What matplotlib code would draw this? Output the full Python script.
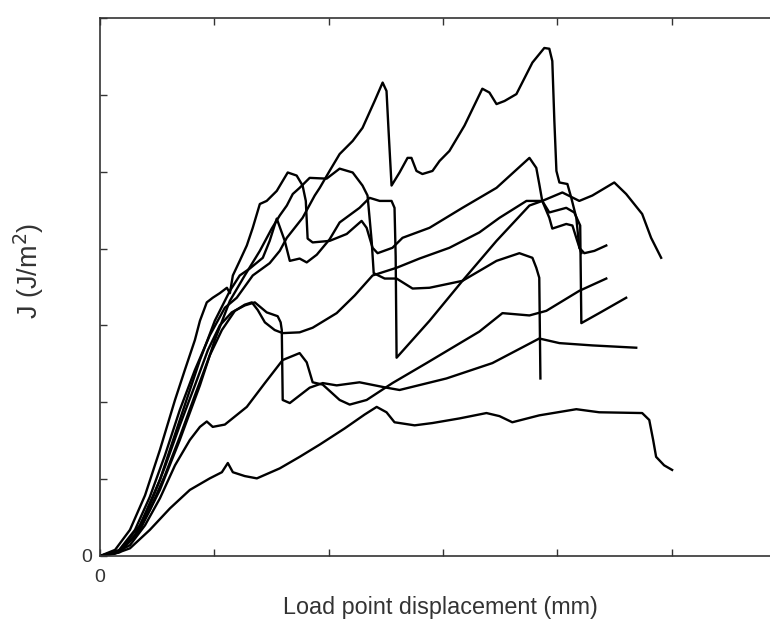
import numpy as np
import matplotlib
matplotlib.use("Agg")
import matplotlib.pyplot as plt

plt.rcParams['font.family'] = ['Liberation Sans', 'DejaVu Sans']

# load point displacement (mm) and J (arbitrary units, ticks every 1) for each specimen
x_a = [0, 0.66, 1.31, 2.18, 3.06, 3.93, 4.80, 5.33, 5.59, 5.81, 6.33, 6.86, 7.86, 8.73, 9.61, 10.70, 11.57,
       12.10, 12.53, 12.88, 13.76, 14.54, 15.72, 16.90, 17.47, 18.03, 19.21, 20.83, 21.83, 23.71, 24.02,
       24.19, 24.32, 24.67, 25.02]
y_a = [0, 0.03, 0.10, 0.34, 0.62, 0.86, 1.01, 1.09, 1.21, 1.09, 1.04, 1.01, 1.14, 1.29, 1.45, 1.66, 1.84,
       1.94, 1.87, 1.74, 1.70, 1.73, 1.79, 1.86, 1.82, 1.74, 1.83, 1.91, 1.87, 1.86, 1.77, 1.51, 1.29,
       1.18, 1.12]

x_b = [0, 0.66, 1.31, 1.97, 2.62, 3.28, 3.93, 4.37, 4.67, 4.93, 5.46, 6.42, 7.21, 7.99, 8.73, 9.04, 9.30,
       9.74, 10.48, 10.92, 11.66, 12.79, 14.28, 16.59, 17.60, 18.78, 19.52, 20.96, 22.14]
y_b = [0, 0.04, 0.14, 0.40, 0.75, 1.18, 1.51, 1.68, 1.75, 1.68, 1.71, 1.94, 2.25, 2.55, 2.64, 2.52, 2.26,
       2.23, 2.03, 1.97, 2.03, 2.25, 2.51, 2.92, 3.16, 3.13, 3.19, 3.45, 3.61]

x_c = [0, 0.79, 1.53, 2.18, 2.84, 3.49, 4.15, 4.72, 5.24, 5.76, 6.33, 6.77, 7.29, 7.77, 7.90, 7.95, 7.99,
       8.30, 9.17, 9.74, 10.35, 11.35, 12.53, 13.10, 15.15, 17.16, 19.21, 20.09, 21.53, 23.45]
y_c = [0, 0.05, 0.27, 0.66, 1.16, 1.70, 2.22, 2.68, 3.00, 3.17, 3.26, 3.30, 3.17, 3.12, 3.04, 2.94, 2.03,
       1.99, 2.19, 2.25, 2.22, 2.26, 2.19, 2.16, 2.31, 2.51, 2.83, 2.77, 2.74, 2.71]

x_f = [0, 0.79, 1.53, 2.18, 2.84, 3.49, 4.15, 4.80, 5.33, 5.90, 6.33, 6.64, 6.90, 7.21, 7.64, 7.99, 8.73,
       9.30, 10.35, 11.14, 11.92, 12.97, 13.97, 15.28, 16.59, 17.47, 18.65, 19.34, 20.22, 20.96, 21.53,
       22.49, 23.01, 23.71, 24.10, 24.54]
y_f = [0, 0.05, 0.25, 0.60, 1.05, 1.55, 2.09, 2.61, 2.94, 3.19, 3.27, 3.30, 3.20, 3.04, 2.94, 2.90, 2.91,
       2.97, 3.16, 3.39, 3.65, 3.75, 3.87, 4.01, 4.21, 4.40, 4.62, 4.62, 4.73, 4.62, 4.69, 4.86, 4.71,
       4.45, 4.14, 3.88]

x_c2 = [0, 0.87, 1.75, 2.62, 3.49, 4.37, 5.02, 5.68, 6.11, 6.55, 7.12, 7.42, 7.73, 8.08, 8.30, 8.73,
        9.04, 9.48, 10.04, 10.48, 11.35, 11.79, 12.23, 12.75, 12.88, 12.93, 12.97, 14.41, 15.85, 17.34,
        18.78, 19.34, 19.65, 20.39, 20.74, 21.00, 21.05, 21.83, 23.01]
y_c2 = [0, 0.08, 0.40, 0.99, 1.77, 2.55, 3.06, 3.45, 3.65, 3.74, 3.88, 4.10, 4.39, 4.10, 3.84, 3.87,
        3.82, 3.92, 4.12, 4.34, 4.53, 4.66, 4.62, 4.62, 4.53, 3.90, 2.58, 3.06, 3.58, 4.10, 4.56, 4.62,
        4.47, 4.53, 4.47, 4.30, 3.03, 3.16, 3.36]

x_h = [0, 0.87, 1.75, 2.62, 3.49, 4.37, 5.02, 5.68, 6.33, 6.99, 7.51, 7.86, 8.17, 8.43, 8.73, 9.17,
       9.91, 10.48, 11.05, 11.48, 11.70, 11.88, 11.97, 12.45, 12.97, 13.67, 14.41, 15.85, 17.34, 18.34,
       18.91, 19.08, 19.21, 19.26]
y_h = [0, 0.05, 0.34, 0.86, 1.51, 2.22, 2.81, 3.32, 3.65, 3.97, 4.26, 4.43, 4.56, 4.71, 4.79, 4.92,
       4.91, 5.04, 4.99, 4.82, 4.69, 4.10, 3.68, 3.61, 3.61, 3.48, 3.49, 3.58, 3.84, 3.94, 3.88, 3.75,
       3.62, 2.31]

x_e = [0, 0.66, 1.31, 1.97, 2.62, 3.28, 3.71, 4.15, 4.37, 4.67, 4.93, 5.24, 5.55, 5.68, 5.81, 6.11,
       6.42, 6.68, 6.99, 7.29, 7.73, 8.21, 8.60, 8.86, 9.00, 9.08, 9.30, 10.04, 10.79, 11.44, 11.66,
       11.92, 12.14, 12.79, 13.23, 14.41, 15.85, 17.34, 18.78, 19.08, 19.21, 19.34, 19.65, 19.78, 20.39,
       20.66, 20.87, 21.05]
y_e = [0, 0.08, 0.34, 0.79, 1.38, 2.03, 2.42, 2.81, 3.06, 3.30, 3.36, 3.42, 3.49, 3.42, 3.65, 3.84,
       4.04, 4.27, 4.58, 4.62, 4.75, 4.99, 4.95, 4.82, 4.62, 4.13, 4.08, 4.10, 4.19, 4.36, 4.27, 4.01,
       3.94, 4.01, 4.14, 4.27, 4.53, 4.79, 5.18, 5.05, 4.84, 4.62, 4.40, 4.26, 4.32, 4.30, 4.10, 3.94]

x_g = [0, 0.79, 1.53, 2.18, 2.84, 3.49, 4.15, 4.80, 5.46, 5.98, 6.68, 7.42, 7.86, 8.17, 8.86, 9.39,
       9.61, 10.04, 10.48, 11.05, 11.48, 12.01, 12.36, 12.53, 12.62, 12.75, 13.10, 13.45, 13.62, 13.84,
       14.10, 14.54, 14.85, 15.28, 15.94, 16.72, 17.03, 17.34, 17.69, 18.21, 18.91, 19.43, 19.65, 19.78,
       19.87, 19.96, 20.09, 20.44, 20.61, 20.83, 20.96, 21.18, 21.62, 22.14]
y_g = [0, 0.06, 0.34, 0.77, 1.31, 1.90, 2.42, 2.87, 3.23, 3.36, 3.65, 3.81, 3.97, 4.14, 4.40, 4.69,
       4.79, 5.01, 5.23, 5.40, 5.57, 5.92, 6.16, 6.05, 5.53, 4.82, 4.99, 5.18, 5.18, 5.01, 4.97, 5.01,
       5.14, 5.27, 5.60, 6.08, 6.03, 5.88, 5.92, 6.01, 6.42, 6.61, 6.60, 6.44, 5.66, 5.01, 4.86, 4.84,
       4.66, 4.40, 4.01, 3.94, 3.97, 4.04]

curves = [(x_a, y_a), (x_b, y_b), (x_c, y_c), (x_f, y_f), (x_c2, y_c2), (x_h, y_h), (x_e, y_e), (x_g, y_g)]

fig = plt.figure(figsize=(7.70, 6.24), dpi=100)
ax = fig.add_axes([100 / 770, 68 / 624, 686 / 770, 538 / 624])

for xs, ys in curves:
    ax.plot(xs, ys, color='black', lw=1.7, solid_joinstyle='round')

ax.set_xlim(0, 30)
ax.set_ylim(0, 7)
ax.set_xticks(np.arange(0, 31, 5))
ax.set_yticks(np.arange(0, 8, 1))
ax.set_xticklabels(['0'] + [''] * 6)
ax.set_yticklabels(['0'] + [''] * 7)
ax.tick_params(direction='in', length=5, width=1, labelsize=14, top=True, right=True, colors='#333333')
ax.tick_params(axis='x', pad=9)
ax.tick_params(axis='y', pad=6)
for side in ['left', 'bottom', 'top', 'right']:
    ax.spines[side].set_color('#333333')
    ax.spines[side].set_linewidth(1.2)

ax.set_xlabel('Load point displacement (mm)', fontsize=16.8, color='#333333')
ax.set_ylabel('J (J/m$^2$)', fontsize=19.5, color='#333333')
ax.xaxis.set_label_coords(0.496, -0.074)
ax.yaxis.set_label_coords(-0.078, 0.53)

plt.savefig('out.png', dpi=100)
